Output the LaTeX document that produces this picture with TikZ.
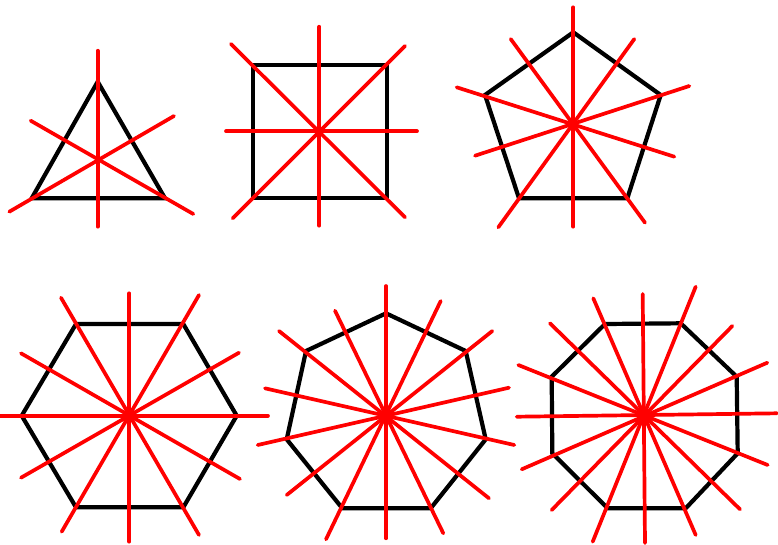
\documentclass[tikz,border=0pt]{standalone}
\begin{document}
\begin{tikzpicture}[x=1pt,y=-1pt,
  poly/.style={draw=black,line width=4.2pt,line join=miter},
  axis/.style={draw=red,line width=3.7pt,line cap=round}]
\useasboundingbox (0,0) rectangle (778,544);
% triangle
\draw[poly] (97.7,81.7) -- (165,198.3) -- (31.7,198.3) -- cycle;
\draw[axis] (97.7,50.7) -- (97.7,226.7);
\draw[axis] (30.7,120.7) -- (193.3,214);
\draw[axis] (9.3,211.7) -- (174,116);
% square
\draw[poly] (253.3,65) rectangle (386.7,197.7);
\draw[axis] (319.3,26.7) -- (319.3,225.7);
\draw[axis] (226,131.3) -- (417,131.3);
\draw[axis] (231,44) -- (405,217.3);
\draw[axis] (232.7,218.3) -- (405,46);
% pentagon
\draw[poly] (573.3,32.3) -- (660.7,95) -- (627.3,198.3) -- (519,198.3) -- (485,95) -- cycle;
\draw[axis] (573.3,7.3) -- (573.3,226.7);
\draw[axis] (510.7,39) -- (645,222.7);
\draw[axis] (634.3,39) -- (498.3,227.3);
\draw[axis] (456.7,87.3) -- (674.3,156.7);
\draw[axis] (689.3,86) -- (475,155.7);
% hexagon
\draw[poly] (76,324) -- (183.3,324) -- (236.7,415.7) -- (183.3,507.3) -- (76,507.3) -- (21.7,415.7) -- cycle;
\draw[axis] (129.3,293.3) -- (129.3,541.7);
\draw[axis] (0,415.7) -- (268,415.7);
\draw[axis] (61,297.7) -- (199,535);
\draw[axis] (199,295) -- (61.7,531.7);
\draw[axis] (21,353.3) -- (240,479);
\draw[axis] (239,352.7) -- (21,477.7);
% heptagon
\draw[poly] (386,313.3) -- (465.7,351) -- (485.7,439.3) -- (430.7,508.3) -- (342.3,508.3) -- (286.7,439.3) -- (306,351) -- cycle;
\draw[axis] (386,286) -- (386,538.3);
\draw[axis] (335,310.7) -- (443.3,533.3);
\draw[axis] (440.7,301) -- (326,539.3);
\draw[axis] (279,331) -- (489,498.3);
\draw[axis] (492.3,331) -- (286.7,495);
\draw[axis] (265,388.3) -- (514.3,445);
\draw[axis] (509,387.7) -- (257.7,445);
% octagon
\draw[poly] (605,324) -- (680.7,323.3) -- (736.7,376.7) -- (737.7,453.3) -- (685.7,508.3) -- (607.7,508.3) -- (552.3,453.3) -- (551.7,376.7) -- cycle;
\draw[axis] (642.7,294) -- (645,543);
\draw[axis] (516.7,416.7) -- (777,413.3);
\draw[axis] (593.3,298.3) -- (695.7,535);
\draw[axis] (695.7,286.7) -- (592.7,541.7);
\draw[axis] (550,323.3) -- (740,509.3);
\draw[axis] (732.3,326) -- (551.7,510);
\draw[axis] (518.3,365) -- (767.7,465);
\draw[axis] (767.3,362.7) -- (521.7,469.3);
\end{tikzpicture}
\end{document}
